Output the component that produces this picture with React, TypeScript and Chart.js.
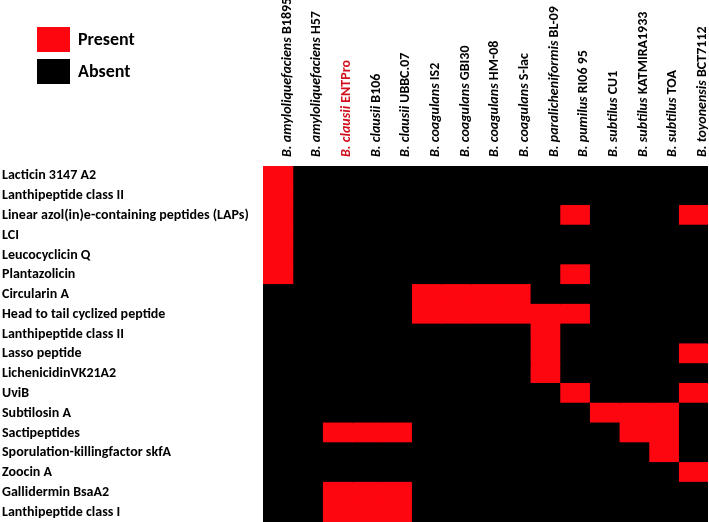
import React, { useEffect, useRef } from "react";
import { Chart, registerables } from "chart.js";

Chart.register(...registerables);

const peptides = [
  "Lacticin 3147 A2",
  "Lanthipeptide class II",
  "Linear azol(in)e-containing peptides (LAPs)",
  "LCI",
  "Leucocyclicin Q",
  "Plantazolicin",
  "Circularin A",
  "Head to tail cyclized peptide",
  "Lanthipeptide class II",
  "Lasso peptide",
  "LichenicidinVK21A2",
  "UviB",
  "Subtilosin A",
  "Sactipeptides",
  "Sporulation-killingfactor skfA",
  "Zoocin A",
  "Gallidermin BsaA2",
  "Lanthipeptide class I",
];

const speciesNames = [
  "B. amyloliquefaciens",
  "B. amyloliquefaciens",
  "B. clausii",
  "B. clausii",
  "B. clausii",
  "B. coagulans",
  "B. coagulans",
  "B. coagulans",
  "B. coagulans",
  "B. paralicheniformis",
  "B. pumilus",
  "B. subtilus",
  "B. subtilus",
  "B. subtilus",
  "B. toyonensis",
];

const strainNames = [
  "B1895",
  "H57",
  "ENTPro",
  "B106",
  "UBBC.07",
  "IS2",
  "GBI30",
  "HM-08",
  "S-lac",
  "BL-09",
  "RI06 95",
  "CU1",
  "KATMIRA1933",
  "TOA",
  "BCT7112",
];

const highlightedStrain = 2;

// 1 = Present, 0 = Absent ; one row per peptide, one column per strain
const presence = [
  [1, 0, 0, 0, 0, 0, 0, 0, 0, 0, 0, 0, 0, 0, 0],
  [1, 0, 0, 0, 0, 0, 0, 0, 0, 0, 0, 0, 0, 0, 0],
  [1, 0, 0, 0, 0, 0, 0, 0, 0, 0, 1, 0, 0, 0, 1],
  [1, 0, 0, 0, 0, 0, 0, 0, 0, 0, 0, 0, 0, 0, 0],
  [1, 0, 0, 0, 0, 0, 0, 0, 0, 0, 0, 0, 0, 0, 0],
  [1, 0, 0, 0, 0, 0, 0, 0, 0, 0, 1, 0, 0, 0, 0],
  [0, 0, 0, 0, 0, 1, 1, 1, 1, 0, 0, 0, 0, 0, 0],
  [0, 0, 0, 0, 0, 1, 1, 1, 1, 1, 1, 0, 0, 0, 0],
  [0, 0, 0, 0, 0, 0, 0, 0, 0, 1, 0, 0, 0, 0, 0],
  [0, 0, 0, 0, 0, 0, 0, 0, 0, 1, 0, 0, 0, 0, 1],
  [0, 0, 0, 0, 0, 0, 0, 0, 0, 1, 0, 0, 0, 0, 0],
  [0, 0, 0, 0, 0, 0, 0, 0, 0, 0, 1, 0, 0, 0, 1],
  [0, 0, 0, 0, 0, 0, 0, 0, 0, 0, 0, 1, 1, 1, 0],
  [0, 0, 1, 1, 1, 0, 0, 0, 0, 0, 0, 0, 1, 1, 0],
  [0, 0, 0, 0, 0, 0, 0, 0, 0, 0, 0, 0, 0, 1, 0],
  [0, 0, 0, 0, 0, 0, 0, 0, 0, 0, 0, 0, 0, 0, 1],
  [0, 0, 1, 1, 1, 0, 0, 0, 0, 0, 0, 0, 0, 0, 0],
  [0, 0, 1, 1, 1, 0, 0, 0, 0, 0, 0, 0, 0, 0, 0],
];

const legendLabels = ["Present", "Absent"];

const RED = "rgb(254, 6, 16)";
const BLACK = "#000000";
const FONT = "Carlito, Lato, 'Open Sans', sans-serif";

const backgroundPlugin = {
  id: "cellBackground",
  beforeDatasetsDraw(chart: any) {
    const { ctx, chartArea } = chart;
    ctx.save();
    ctx.fillStyle = BLACK;
    ctx.fillRect(chartArea.left, chartArea.top, chartArea.right - chartArea.left, chartArea.bottom - chartArea.top);
    ctx.restore();
  },
};

const headerPlugin = {
  id: "headerLabels",
  afterDraw(chart: any) {
    const ctx = chart.ctx;
    const xs = chart.scales.x;
    const top = chart.chartArea.top;
    ctx.save();
    for (let c = 0; c < strainNames.length; c++) {
      const xRight = xs.getPixelForValue(c + 1);
      const color = c === highlightedStrain ? "#d0101c" : "#000";
      ctx.save();
      ctx.translate(xRight - 2, top - 9);
      ctx.rotate(-Math.PI / 2);
      ctx.textAlign = "left";
      ctx.textBaseline = "alphabetic";
      ctx.fillStyle = color;
      ctx.font = `italic bold 14px ${FONT}`;
      const sp = speciesNames[c] + " ";
      ctx.fillText(sp, 0, 0);
      const w = ctx.measureText(sp).width;
      ctx.font = `bold 14px ${FONT}`;
      ctx.fillText(strainNames[c], w, 0);
      ctx.restore();
    }
    const colors = [RED, BLACK];
    for (let i = 0; i < legendLabels.length; i++) {
      const y = 27 + i * 32;
      ctx.fillStyle = colors[i];
      ctx.fillRect(37, y, 33, 25);
      ctx.fillStyle = "#000";
      ctx.font = `bold 18px ${FONT}`;
      ctx.textAlign = "left";
      ctx.textBaseline = "middle";
      ctx.fillText(legendLabels[i], 78, y + 13);
    }
    ctx.restore();
  },
};

export default function App() {
  const ref = useRef<HTMLCanvasElement | null>(null);

  useEffect(() => {
    document.body.style.margin = "0";
    const canvas = ref.current;
    if (!canvas) return;
    const datasets = strainNames.map((name, c) => ({
      label: name,
      data: peptides.map(() => 1),
      backgroundColor: peptides.map((_, r) => (presence[r][c] ? RED : BLACK)),
      borderWidth: 0,
      inflateAmount: 0.6,
      barPercentage: 1,
      categoryPercentage: 1,
      stack: "s",
    }));
    const chart = new Chart(canvas, {
      type: "bar",
      data: { labels: peptides, datasets },
      options: {
        indexAxis: "y",
        animation: false,
        responsive: false,
        maintainAspectRatio: false,
        layout: { padding: { top: 166, left: 2, right: 1, bottom: 0 } },
        plugins: {
          legend: { display: false },
          tooltip: { enabled: false },
          title: { display: false },
        },
        scales: {
          x: {
            stacked: true,
            min: 0,
            max: strainNames.length,
            display: false,
          },
          y: {
            stacked: true,
            grid: { display: false },
            border: { display: true, color: "#cccccc", width: 1 },
            ticks: {
              color: "#000",
              font: { family: FONT, weight: "bold", size: 14 },
              crossAlign: "far",
              padding: 0,
              autoSkip: false,
            },
            afterFit(scale: any) {
              scale.width = 261;
              scale.paddingTop = 0;
              scale.paddingBottom = 0;
            },
          },
        },
      },
      plugins: [backgroundPlugin, headerPlugin],
    });
    return () => chart.destroy();
  }, []);

  return (
    <div style={{ width: 709, height: 522, position: "relative", background: "#fff" }}>
      <canvas ref={ref} width={709} height={522} style={{ display: "block" }} />
    </div>
  );
}
